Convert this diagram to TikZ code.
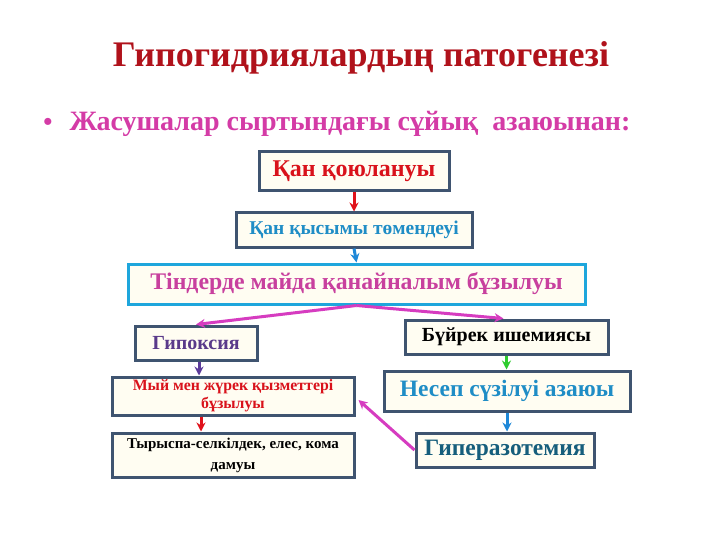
\documentclass[tikz,border=0pt]{standalone}
\usepackage{fontspec}
\setmainfont{Liberation Serif}
\usetikzlibrary{arrows.meta}
\definecolor{titlered}{HTML}{B0121B}
\definecolor{bulletpink}{HTML}{D43BA6}
\definecolor{boxedge}{HTML}{3F5470}
\definecolor{boxfill}{HTML}{FFFDF2}
\definecolor{lightblueedge}{HTML}{1EA6DC}
\definecolor{redtxt}{HTML}{D9121B}
\definecolor{bluetxt}{HTML}{1F8DC6}
\definecolor{pinktxt}{HTML}{C8409E}
\definecolor{purpletxt}{HTML}{5A3A8A}
\definecolor{teal}{HTML}{165E7C}
\definecolor{arrred}{HTML}{E0121B}
\definecolor{arrblue}{HTML}{1E88D8}
\definecolor{arrmag}{HTML}{D63CC0}
\definecolor{arrpurple}{HTML}{5B3A9A}
\definecolor{arrgreen}{HTML}{2ECC2E}
\tikzset{
  box/.style={draw=boxedge, line width=3pt, fill=boxfill, inner sep=0pt, align=center, font=\bfseries},
  conn/.style={line width=3pt, -{Stealth[length=9pt,width=9pt]}}
}
\begin{document}
\begin{tikzpicture}[x=1pt,y=-1pt]
\useasboundingbox (0,0) rectangle (720,540);
\fill[white] (0,0) rectangle (720,540);
\node[text=titlered, font=\bfseries\fontsize{36}{40}\selectfont] (title) at (361,58) {Гипогидриялардың патогенезі};
\node[text=bulletpink, font=\bfseries\fontsize{26}{30}\selectfont] (bul) at (48,124) {•};
\node[text=bulletpink, font=\bfseries\fontsize{28}{32}\selectfont, anchor=west] (sub) at (66,124) {Жасушалар сыртындағы сұйық\ \ азаюынан:};

\node[box, minimum width=190pt, minimum height=39pt, text=redtxt, font=\bfseries\fontsize{24}{27}\selectfont] (b1) at (354,171.5) {Қан қоюлануы};
\node[box, minimum width=236pt, minimum height=34pt, text=bluetxt, font=\bfseries\fontsize{19.5}{22}\selectfont] (b2) at (354,230) {Қан қысымы төмендеуі};
\node[box, draw=lightblueedge, minimum width=457pt, minimum height=40pt, text=pinktxt, font=\bfseries\fontsize{23.8}{27}\selectfont] (b3) at (356.5,284) {Тіндерде майда қанайналым бұзылуы};
\node[box, minimum width=122pt, minimum height=34pt, text=purpletxt, font=\bfseries\fontsize{20}{23}\selectfont] (b4) at (196,343) {Гипоксия};
\node[box, minimum width=242pt, minimum height=38pt, text=redtxt, font=\bfseries\fontsize{15.8}{18}\selectfont] (b5) at (233,396) {Мый мен жүрек қызметтері\\бұзылуы};
\node[box, minimum width=242pt, minimum height=44pt, text=black, font=\bfseries\fontsize{15}{21}\selectfont] (b6) at (233,455) {Тырыспа-селкілдек, елес, кома\\дамуы};
\node[box, minimum width=203pt, minimum height=34pt, text=black, font=\bfseries\fontsize{20}{23}\selectfont] (b7) at (506.5,337) {Бүйрек ишемиясы};
\node[box, minimum width=246pt, minimum height=40pt, text=bluetxt, font=\bfseries\fontsize{23.5}{27}\selectfont] (b8) at (507,391) {Несеп сүзілуі азаюы};
\node[box, minimum width=178pt, minimum height=34pt, text=teal, font=\bfseries\fontsize{23.5}{27}\selectfont] (b9) at (505,450) {Гиперазотемия};

\draw[conn, arrred] (b1.south) -- (b2.north);
\draw[conn, arrblue] (b2.south) -- (b3.north);
\draw[conn, arrmag] (b3.south) -- (b4.north);
\draw[conn, arrmag] (b3.south) -- ([xshift=-3pt]b7.north);
\draw[conn, arrpurple] ([xshift=3pt]b4.south) -- ([xshift=3pt]b4.south |- b5.north);
\draw[conn, arrred] ([xshift=-32pt]b5.south) -- ([xshift=-32pt]b6.north);
\draw[conn, arrgreen] (b7.south) -- (b7.south |- b8.north);
\draw[conn, arrblue] (b8.south) -- (b8.south |- b9.north);
\draw[conn, arrmag] (b9.west) -- ([xshift=3pt,yshift=-4pt]b5.east);
\end{tikzpicture}
\end{document}
